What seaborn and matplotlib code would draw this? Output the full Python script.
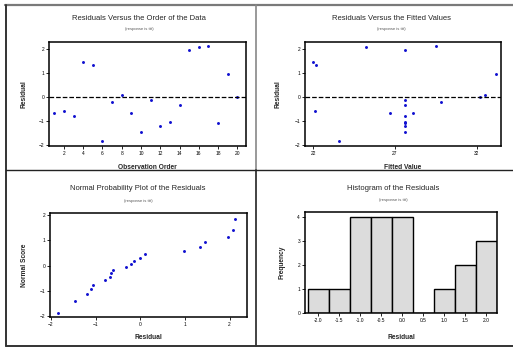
import matplotlib
matplotlib.use("Agg")
import matplotlib.pyplot as plt
from matplotlib.lines import Line2D
import seaborn as sns
import numpy as np

# residuals in observation order
obs_order = list(range(1, 21))
residuals = [-0.65, -0.60, -0.78, 1.45, 1.33, -1.85, -0.20, 0.10, -0.68, -1.45,
             -0.13, -1.20, -1.05, -0.32, 1.97, 2.08, 2.13, -1.10, 0.97, 0.00]
fitted = [26.7, 22.1, 27.6, 22.0, 22.2, 23.6, 29.8, 32.5, 28.1, 27.6,
          27.6, 27.6, 27.6, 27.6, 27.6, 25.25, 29.5, 27.6, 33.2, 32.2]
# normal scores read against sorted residuals
sorted_resid = sorted(residuals)
normal_score = [-1.87, -1.40, -1.13, -0.92, -0.75, -0.59, -0.45, -0.31, -0.19, -0.06,
                0.06, 0.19, 0.31, 0.45, 0.59, 0.75, 0.92, 1.13, 1.40, 1.87]

titles = ["Residuals Versus the Order of the Data",
          "Residuals Versus the Fitted Values",
          "Normal Probability Plot of the Residuals",
          "Histogram of the Residuals"]
subtitle = "(response is ttt)"
xlabels = ["Observation Order", "Fitted Value", "Residual", "Residual"]
ylabels = ["Residual", "Residual", "Normal Score", "Frequency"]

sns.set_style("white")
plt.rcParams['font.family'] = ['Liberation Sans', 'DejaVu Sans']

W, H = 513, 347
fig = plt.figure(figsize=(W / 100, H / 100), dpi=100)


def add_ax(l, r, t, b):
    return fig.add_axes([l / W, 1 - b / H, (r - l) / W, (b - t) / H])


def style(ax):
    for s in ax.spines.values():
        s.set_color('black')
        s.set_linewidth(1.1)
    ax.tick_params(axis='both', direction='out', length=2, width=0.6,
                   labelsize=3.5, pad=1.5, colors='black',
                   bottom=True, left=True)


dot = dict(color='#1010d0', s=4.5, marker='o', linewidth=0)

# residuals vs order
ax1 = add_ax(49, 246, 42, 146)
sns.scatterplot(x=obs_order, y=residuals, ax=ax1, **dot)
ax1.axhline(0, color='black', linestyle='--', linewidth=0.9)
ax1.set_xlim(0.45, 20.9)
ax1.set_ylim(-2.05, 2.3)
ax1.set_xticks(range(2, 21, 2))
ax1.set_yticks([-2, -1, 0, 1, 2])
style(ax1)

# residuals vs fitted
ax2 = add_ax(305, 501, 42, 146)
sns.scatterplot(x=fitted, y=residuals, ax=ax2, **dot)
ax2.axhline(0, color='black', linestyle='--', linewidth=0.9)
ax2.set_xlim(21.5, 33.5)
ax2.set_ylim(-2.05, 2.3)
ax2.set_xticks([22, 27, 32])
ax2.set_yticks([-2, -1, 0, 1, 2])
style(ax2)

# normal probability plot
ax3 = add_ax(50, 247, 213, 317)
sns.scatterplot(x=sorted_resid, y=normal_score, ax=ax3, **dot)
ax3.set_xlim(-2.02, 2.39)
ax3.set_ylim(-2.04, 2.09)
ax3.set_xticks([-2, -1, 0, 1, 2])
ax3.set_yticks([-2, -1, 0, 1, 2])
style(ax3)

# histogram
ax4 = add_ax(305, 497, 212, 313)
sns.histplot(x=residuals, binwidth=0.5, binrange=(-2.25, 2.25), ax=ax4,
             color='#dcdcdc', edgecolor='black', linewidth=1.0, alpha=1)
ax4.set_xlim(-2.32, 2.25)
ax4.set_ylim(0, 4.22)
hist_ticks = np.arange(-2.0, 2.01, 0.5)
ax4.set_xticks(hist_ticks)
ax4.set_xticklabels([f"{v:.1f}" for v in hist_ticks])
ax4.set_yticks([0, 1, 2, 3, 4])
style(ax4)

axes = [ax1, ax2, ax3, ax4]
title_pos = [(139, 18, 29), (391, 18, 29), (138, 189, 201), (393, 189, 200)]
xlab_y = [164, 164, 334, 334]
ylab_x = [28, 282, 28, 285]

for ax, t, (cx, ty, sy), xl, yl, xy, yx in zip(axes, titles, title_pos,
                                                xlabels, ylabels, xlab_y, ylab_x):
    fig.text(cx / W, 1 - ty / H, t, ha='center', va='center', fontsize=5.5)
    fig.text(cx / W, 1 - sy / H, subtitle, ha='center', va='center',
             fontsize=3, color='#555555')
    pos = ax.get_position()
    l, top, w, h = pos.x0 * W, (1 - pos.y1) * H, pos.width * W, pos.height * H
    ax.set_xlabel(xl, fontsize=4.8, fontweight='bold')
    ax.set_ylabel(yl, fontsize=4.8, fontweight='bold')
    ax.xaxis.set_label_coords(0.5, -(xy - (top + h)) / h)
    ax.yaxis.set_label_coords(-(l - yx) / w, 0.5)


# panel frame lines
def fline(x0, y0, x1, y1, c, lw):
    fig.add_artist(Line2D([x0 / W, x1 / W], [1 - y0 / H, 1 - y1 / H],
                          color=c, linewidth=lw, transform=fig.transFigure))


fline(5, 5, 513, 5, '#7a7a7a', 1.6)
fline(6, 5, 6, 346, '#333333', 1.4)
fline(256, 5, 256, 170, '#888888', 1.2)
fline(256, 170, 256, 346, '#222222', 1.2)
fline(6, 170, 513, 170, '#222222', 1.0)
fline(6, 346, 513, 346, '#333333', 1.4)

fig.savefig("out.png", dpi=100)
